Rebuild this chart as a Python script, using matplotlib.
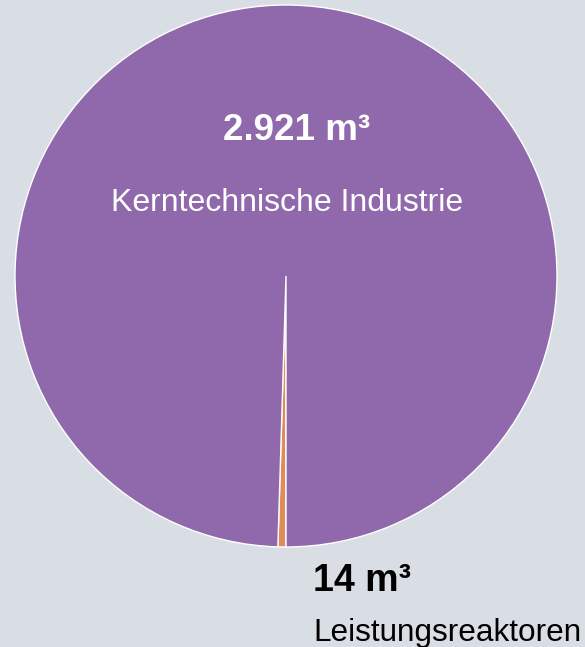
import matplotlib.pyplot as plt

plt.rcParams['font.family'] = ['Liberation Sans', 'DejaVu Sans']

# === Daten ===
labels = ["Leistungsreaktoren", "Kerntechnische Industrie"]
values = [14, 2921]
value_labels = ["14 m³", "2.921 m³"]
colors = ["#e08b58", "#9069ac"]
bg = "#d9dee4"

fig = plt.figure(figsize=(5.85, 6.47), dpi=100)
fig.patch.set_facecolor(bg)
ax = fig.add_axes([0, 0, 1, 1])
ax.set_facecolor(bg)

cx, cy, r = 286, 647 - 276, 271
ax.pie(values, colors=colors, startangle=-90, counterclock=False,
       center=(cx, cy), radius=r, frame=True,
       wedgeprops=dict(edgecolor="white", linewidth=1))
ax.set_xlim(0, 585)
ax.set_ylim(0, 647)
ax.set_aspect("equal")
ax.axis("off")

# Beschriftung große Scheibe (innen)
ax.text(297, 647 - 131, value_labels[1], color="white", fontsize=26.5,
        fontweight="bold", ha="center", va="center")
ax.text(287, 647 - 203, labels[1], color="white", fontsize=23,
        ha="center", va="center")

# Beschriftung kleine Scheibe (außen)
ax.text(313, 647 - 581, value_labels[0], color="#000000", fontsize=27,
        fontweight="bold", ha="left", va="center")
ax.text(313, 647 - 633, labels[0], color="#000000", fontsize=22.7,
        ha="left", va="center")

fig.savefig("out.png", dpi=100, facecolor=bg)
